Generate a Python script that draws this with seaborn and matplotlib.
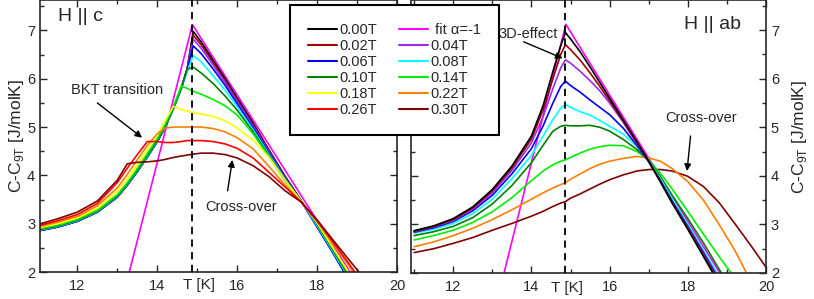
import numpy as np
import pandas as pd
import seaborn as sns
import matplotlib.pyplot as plt
import matplotlib.transforms as mtransforms
from matplotlib.lines import Line2D
from matplotlib.ticker import MultipleLocator

nan = np.nan

# temperature grids [K]
t_c = [11.0, 11.5, 12.0, 12.5, 13.0, 13.25, 13.5, 13.75, 14.0, 14.2, 14.4, 14.6, 14.75,
       14.9, 15.1, 15.4, 15.7, 16.0, 16.4, 16.8, 17.2, 17.6, 18.0, 18.4, 18.8, 19.2]
t_ab = [11.0, 11.5, 12.0, 12.5, 13.0, 13.5, 14.0, 14.3, 14.55, 14.75, 14.87, 15.0, 15.25,
        15.5, 15.75, 16.0, 16.35, 16.7, 17.0, 17.3, 17.6, 18.0, 18.4, 18.8, 19.2, 19.6, 20.0]

# H || c  (C - C_9T, J/molK)
c_000 = [2.85, 2.93, 3.05, 3.24, 3.55, 3.8, 4.08, 4.38, 4.7, 5.0, 5.38, 5.8, 6.22,
         6.98, 6.76, 6.38, 6.0, 5.6, 5.08, 4.52, 3.98, 3.48, 2.94, 2.4, 1.83, nan]
c_002 = [2.85, 2.93, 3.05, 3.24, 3.55, 3.8, 4.08, 4.38, 4.7, 5.0, 5.38, 5.8, 6.2,
         6.9, 6.7, 6.33, 5.96, 5.56, 5.04, 4.5, 3.97, 3.47, 2.95, 2.41, 1.85, nan]
c_004 = [2.85, 2.93, 3.05, 3.24, 3.55, 3.8, 4.08, 4.38, 4.7, 5.0, 5.38, 5.8, 6.2,
         6.82, 6.63, 6.28, 5.92, 5.53, 5.02, 4.48, 3.95, 3.47, 2.95, 2.41, 1.85, nan]
c_006 = [2.85, 2.93, 3.05, 3.24, 3.55, 3.8, 4.08, 4.38, 4.7, 5.0, 5.38, 5.8, 6.18,
         6.68, 6.52, 6.2, 5.86, 5.48, 4.98, 4.46, 3.94, 3.47, 2.93, 2.39, 1.83, nan]
c_008 = [2.86, 2.94, 3.06, 3.25, 3.56, 3.81, 4.09, 4.39, 4.71, 5.01, 5.38, 5.8, 6.15,
         6.48, 6.35, 6.06, 5.76, 5.42, 4.94, 4.43, 3.92, 3.47, 2.96, 2.42, 1.87, nan]
c_010 = [2.87, 2.95, 3.07, 3.26, 3.57, 3.82, 4.1, 4.41, 4.72, 5.02, 5.39, 5.8, 6.2,
         6.24, 6.12, 5.9, 5.64, 5.35, 4.9, 4.4, 3.9, 3.47, 2.99, 2.45, 1.9, nan]
c_014 = [2.89, 2.97, 3.09, 3.28, 3.6, 3.85, 4.14, 4.45, 4.76, 5.06, 5.42, 5.85, 5.8,
         5.74, 5.68, 5.57, 5.44, 5.25, 4.86, 4.38, 3.88, 3.47, 3.01, 2.48, 1.95, 1.4]
c_018 = [2.91, 3.0, 3.12, 3.32, 3.67, 3.93, 4.22, 4.53, 4.85, 5.13, 5.43, 5.36, 5.33,
         5.3, 5.27, 5.22, 5.13, 4.98, 4.73, 4.37, 3.9, 3.46, 3.02, 2.5, 1.98, 1.45]
c_022 = [2.93, 3.03, 3.15, 3.37, 3.74, 4.02, 4.32, 4.62, 4.86, 4.98, 5.0, 5.0, 5.0,
         5.0, 5.0, 4.97, 4.9, 4.78, 4.55, 4.18, 3.8, 3.45, 3.04, 2.58, 2.12, 1.62]
c_026 = [2.95, 3.06, 3.19, 3.42, 3.85, 4.15, 4.43, 4.7, 4.7, 4.68, 4.68, 4.7, 4.72,
         4.72, 4.72, 4.7, 4.65, 4.56, 4.36, 4.06, 3.76, 3.45, 3.06, 2.62, 2.17, 1.7]
c_030 = [2.98, 3.1, 3.24, 3.47, 3.9, 4.24, 4.27, 4.28, 4.3, 4.33, 4.37, 4.4, 4.42,
         4.44, 4.46, 4.46, 4.43, 4.36, 4.2, 3.97, 3.68, 3.45, 3.08, 2.66, 2.25, 1.85]

# H || ab
ab_000 = [2.87, 2.97, 3.12, 3.36, 3.72, 4.2, 4.82, 5.45, 6.15, 6.68, 6.95, 6.82, 6.55, 6.24,
          5.92, 5.6, 5.15, 4.7, 4.3, 3.88, 3.44, 2.9, 2.34, 1.78, nan, nan, nan]
ab_002 = [2.86, 2.96, 3.1, 3.34, 3.69, 4.16, 4.76, 5.36, 6.0, 6.5, 6.7, 6.6, 6.38, 6.12,
          5.84, 5.55, 5.12, 4.68, 4.3, 3.88, 3.45, 2.92, 2.37, 1.82, nan, nan, nan]
ab_004 = [2.85, 2.95, 3.08, 3.31, 3.65, 4.11, 4.68, 5.22, 5.8, 6.22, 6.39, 6.32, 6.15, 5.96,
          5.75, 5.5, 5.1, 4.66, 4.29, 3.88, 3.45, 2.93, 2.38, 1.83, nan, nan, nan]
ab_006 = [2.84, 2.93, 3.06, 3.28, 3.6, 4.04, 4.56, 5.03, 5.5, 5.84, 5.95, 5.86, 5.72, 5.56,
          5.41, 5.26, 4.98, 4.62, 4.29, 3.9, 3.48, 2.96, 2.42, 1.87, nan, nan, nan]
ab_008 = [2.82, 2.9, 3.02, 3.22, 3.52, 3.94, 4.42, 4.82, 5.16, 5.39, 5.47, 5.41, 5.32, 5.25,
          5.14, 5.02, 4.86, 4.6, 4.31, 3.94, 3.53, 3.0, 2.47, 1.93, nan, nan, nan]
ab_010 = [2.77, 2.85, 2.96, 3.14, 3.42, 3.8, 4.27, 4.63, 4.92, 5.02, 5.04, 5.03, 5.03, 5.04,
          5.0, 4.92, 4.75, 4.54, 4.32, 3.98, 3.6, 3.12, 2.62, 2.08, 1.55, nan, nan]
ab_014 = [2.68, 2.77, 2.88, 3.04, 3.26, 3.55, 3.9, 4.1, 4.23, 4.3, 4.33, 4.38, 4.47, 4.55,
          4.6, 4.63, 4.62, 4.5, 4.33, 4.05, 3.73, 3.27, 2.8, 2.34, 1.9, nan, nan]
ab_022 = [2.54, 2.64, 2.77, 2.92, 3.1, 3.3, 3.52, 3.65, 3.75, 3.82, 3.86, 3.93, 4.04, 4.15,
          4.24, 4.3, 4.36, 4.4, 4.37, 4.3, 4.15, 3.88, 3.5, 3.0, 2.47, 1.85, nan]
ab_030 = [2.42, 2.5, 2.61, 2.73, 2.88, 3.02, 3.17, 3.27, 3.37, 3.44, 3.47, 3.54, 3.63, 3.73,
          3.83, 3.92, 4.02, 4.1, 4.13, 4.13, 4.1, 3.99, 3.78, 3.45, 3.02, 2.58, 2.12]

# fit alpha = -1
fit_t = [13.3, 14.88, 18.82]
fit_c = [2.0, 7.12, 2.0]
t_crit = 14.87

colors = {'0.00T': '#000000', '0.02T': '#a00000', '0.04T': '#9a2cf0', '0.06T': '#0000ff',
          '0.08T': '#00ffff', '0.10T': '#008000', '0.14T': '#00ee00', '0.18T': '#ffff00',
          '0.22T': '#ff8000', '0.26T': '#ff0000', '0.30T': '#800000'}
fit_color = '#ff00ff'

curves_c = {'0.00T': c_000, '0.02T': c_002, '0.04T': c_004, '0.06T': c_006, '0.08T': c_008,
            '0.10T': c_010, '0.14T': c_014, '0.18T': c_018, '0.22T': c_022, '0.26T': c_026,
            '0.30T': c_030}
curves_ab = {'0.00T': ab_000, '0.02T': ab_002, '0.04T': ab_004, '0.06T': ab_006,
             '0.08T': ab_008, '0.10T': ab_010, '0.14T': ab_014, '0.22T': ab_022,
             '0.30T': ab_030}

sns.set_style('ticks')
plt.rcParams['font.family'] = ['Liberation Sans', 'DejaVu Sans']
plt.rcParams['mathtext.fontset'] = 'custom'
plt.rcParams['mathtext.rm'] = 'Liberation Sans'

fig = plt.figure(figsize=(8.14, 2.99), dpi=100)
ax1 = fig.add_axes([40 / 814, 27 / 299, 357 / 814, 272 / 299])
ax2 = fig.add_axes([411 / 814, 26 / 299, 355 / 814, 273 / 299])

# left panel: fit, then low -> high field
sns.lineplot(x=fit_t, y=fit_c, color=fit_color, lw=1.2, ax=ax1, errorbar=None)
for name, vals in curves_c.items():
    sns.lineplot(x=t_c, y=vals, color=colors[name], lw=1.2, ax=ax1, errorbar=None)

# right panel: high -> low field, black on top
sns.lineplot(x=fit_t, y=fit_c, color=fit_color, lw=1.2, ax=ax2, errorbar=None)
for name in list(curves_ab)[::-1]:
    sns.lineplot(x=t_ab, y=curves_ab[name], color=colors[name], lw=1.2, ax=ax2, errorbar=None)

ylab = 'C-C$_{\\rm 9T}$ [J/molK]'
for ax, xl, yt in [(ax1, (11.065, 20), 7.63), (ax2, (10.92, 20), 7.62)]:
    ax.axvline(t_crit, color='k', lw=1.3, ls=(0, (4, 3)), zorder=5)
    ax.set_xlim(*xl)
    ax.set_ylim(2, yt)
    ax.xaxis.set_major_locator(MultipleLocator(2))
    ax.xaxis.set_minor_locator(MultipleLocator(1))
    ax.yaxis.set_major_locator(MultipleLocator(1))
    ax.yaxis.set_minor_locator(MultipleLocator(0.5))
    ax.tick_params(which='both', direction='in', top=True, right=True, labelsize=10.5, width=1)
    ax.tick_params(which='major', length=5)
    ax.tick_params(which='minor', length=3)
    ax.tick_params(axis='x', which='both', pad=5)
    ax.set_xticks([12, 14, 16, 18, 20])
    ax.set_xlabel('')
    for sp in ax.spines.values():
        sp.set_linewidth(1.2)

ax1.set_yticks([2, 3, 4, 5, 6, 7])
ax2.set_yticks([2, 3, 4, 5, 6, 7])
ax1.set_ylabel(ylab, fontsize=12.5, labelpad=1)
ax2.tick_params(labelleft=False, labelright=True)
ax2.yaxis.set_label_position('right')
ax2.set_ylabel(ylab, fontsize=12.5, labelpad=8)

tr1 = mtransforms.blended_transform_factory(ax1.transData, fig.transFigure)
tr2 = mtransforms.blended_transform_factory(ax2.transData, fig.transFigure)
ax1.text(15.05, 1 - 285 / 299, 'T [K]', transform=tr1, ha='center', va='center', fontsize=11)
ax2.text(14.9, 1 - 288 / 299, 'T [K]', transform=tr2, ha='center', va='center', fontsize=11)

ax1.text(0.05, 0.94, 'H || c', transform=ax1.transAxes, ha='left', va='center', fontsize=14)
ax2.text(0.93, 0.91, 'H || ab', transform=ax2.transAxes, ha='right', va='center', fontsize=14)

arrow = dict(arrowstyle='-|>', color='k', lw=1.0, mutation_scale=10, shrinkA=0, shrinkB=0)
ax1.text(13.0, 5.77, 'BKT transition', ha='center', va='center', fontsize=10.5)
ax1.annotate('', xy=(13.62, 4.78), xytext=(12.5, 5.5), arrowprops=arrow)
ax1.text(16.1, 3.35, 'Cross-over', ha='center', va='center', fontsize=10.5)
ax1.annotate('', xy=(15.88, 4.32), xytext=(15.76, 3.68), arrowprops=arrow)
ax2.text(13.15, 6.92, '3D-effect', ha='left', va='center', fontsize=10.5)
ax2.annotate('', xy=(14.8, 6.42), xytext=(13.8, 6.76), arrowprops=arrow)
ax2.text(18.35, 5.19, 'Cross-over', ha='center', va='center', fontsize=10.5)
ax2.annotate('', xy=(17.98, 4.1), xytext=(18.07, 4.82), arrowprops=arrow)

order = ['0.00T', '0.02T', '0.06T', '0.10T', '0.18T', '0.26T',
         'fit', '0.04T', '0.08T', '0.14T', '0.22T', '0.30T']
handles, labels = [], []
for name in order:
    if name == 'fit':
        handles.append(Line2D([], [], color=fit_color, lw=1.5))
        labels.append(' fit \u03b1=-1')
    else:
        handles.append(Line2D([], [], color=colors[name], lw=1.5))
        labels.append(name)
leg = fig.legend(handles, labels, ncol=2, loc='upper left', bbox_to_anchor=(290 / 814, 1 - 5 / 299),
                 frameon=True, fancybox=False, edgecolor='k', framealpha=1, fontsize=10.5,
                 handlelength=1.95, handletextpad=0.2, labelspacing=0.13, columnspacing=1.5,
                 borderpad=1.25, borderaxespad=0)
leg.get_frame().set_linewidth(1.5)

fig.savefig('out.png', dpi=100)
